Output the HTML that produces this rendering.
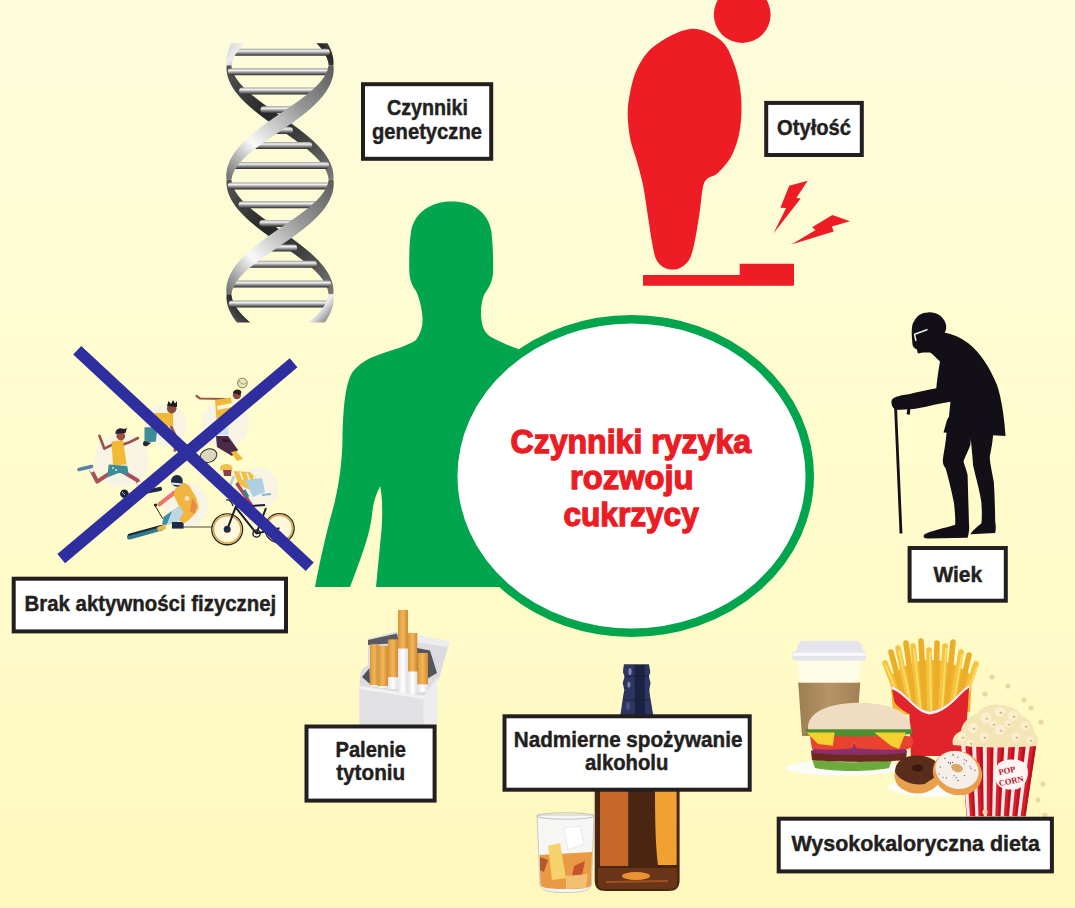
<!DOCTYPE html>
<html><head><meta charset="utf-8"><style>
html,body{margin:0;padding:0;width:1075px;height:908px;overflow:hidden;}
svg{position:absolute;left:0;top:0;display:block;}
text{font-family:"Liberation Sans",sans-serif;font-weight:bold;}
</style></head><body>
<svg width="1075" height="908" viewBox="0 0 1075 908">
<defs>
<linearGradient id="bg" x1="0" y1="0" x2="0" y2="1"><stop offset="0" stop-color="#FDFCDC"/><stop offset="0.5" stop-color="#FFFCCD"/><stop offset="1" stop-color="#FFF8BE"/></linearGradient>
<linearGradient id="rung" x1="0" y1="0" x2="0" y2="1"><stop offset="0" stop-color="#9a9a9a"/><stop offset="0.3" stop-color="#f2f2f2"/><stop offset="0.65" stop-color="#858585"/><stop offset="1" stop-color="#2a2a2a"/></linearGradient>
<linearGradient id="dnaBack0" x1="0" y1="0" x2="1" y2="1"><stop offset="0" stop-color="#555"/><stop offset="0.4" stop-color="#262626"/><stop offset="0.7" stop-color="#444"/><stop offset="1" stop-color="#7a7a7a"/></linearGradient>
<linearGradient id="dnaBack1" x1="1" y1="0" x2="0" y2="1"><stop offset="0" stop-color="#555"/><stop offset="0.4" stop-color="#262626"/><stop offset="0.7" stop-color="#444"/><stop offset="1" stop-color="#7a7a7a"/></linearGradient>
<linearGradient id="dnaFront1" x1="1" y1="0" x2="0" y2="1"><stop offset="0" stop-color="#5a5a5a"/><stop offset="0.35" stop-color="#9a9a9a"/><stop offset="0.72" stop-color="#fafafa"/><stop offset="1" stop-color="#6a6a6a"/></linearGradient>
<linearGradient id="dnaFront0" x1="0" y1="0" x2="1" y2="1"><stop offset="0" stop-color="#d0d0d0"/><stop offset="0.5" stop-color="#eeeeee"/><stop offset="1" stop-color="#5a5a5a"/></linearGradient>
<linearGradient id="filt" x1="0" y1="0" x2="1" y2="0"><stop offset="0" stop-color="#D9953A"/><stop offset="0.5" stop-color="#F2B658"/><stop offset="1" stop-color="#D08A32"/></linearGradient>
<linearGradient id="cup" x1="0" y1="0" x2="1" y2="0"><stop offset="0" stop-color="#9C7E52"/><stop offset="0.5" stop-color="#B59467"/><stop offset="1" stop-color="#A08155"/></linearGradient>
<linearGradient id="paper" x1="0" y1="0" x2="1" y2="0"><stop offset="0" stop-color="#E4E4E8"/><stop offset="0.5" stop-color="#FFFFFF"/><stop offset="1" stop-color="#E0E0E4"/></linearGradient>
</defs>
<rect width="1075" height="908" fill="url(#bg)"/>
<g id="dna"><path d="M316.4,43.2 L317.8,44.7 L319.2,46.2 L320.5,47.7 L321.7,49.2 L322.8,50.7 L323.8,52.2 L324.7,53.7 L325.5,55.2 L326.2,56.7 L326.9,58.2 L327.4,59.7 L327.9,61.2 L328.2,62.7 L328.5,64.2 L328.6,65.2 L333.4,65.2 L333.5,64.2 L333.5,62.7 L333.5,61.2 L333.4,59.7 L333.2,58.2 L333.0,56.7 L332.6,55.2 L332.2,53.7 L331.8,52.2 L331.2,50.7 L330.6,49.2 L329.9,47.7 L329.2,46.2 L328.4,44.7 L327.5,43.2Z" fill="url(#dnaBack1)"/><path d="M226.6,65.2 L226.5,66.8 L226.5,68.2 L226.5,69.8 L226.7,71.2 L226.9,72.8 L227.1,74.2 L227.5,75.8 L227.9,77.2 L228.4,78.8 L228.9,80.2 L229.6,81.8 L230.3,83.2 L231.0,84.8 L231.9,86.2 L232.8,87.8 L233.8,89.2 L234.8,90.8 L235.9,92.2 L237.1,93.8 L238.3,95.2 L239.6,96.8 L241.0,98.2 L242.4,99.8 L243.9,101.2 L245.4,102.8 L247.0,104.2 L248.6,105.8 L250.3,107.2 L252.1,108.8 L253.9,110.2 L255.7,111.8 L257.6,113.2 L259.5,114.8 L261.5,116.2 L263.5,117.8 L265.5,119.2 L267.6,120.8 L269.7,122.2 L271.8,123.8 L273.9,125.2 L276.0,126.8 L278.2,128.2 L280.3,129.8 L282.5,131.2 L284.7,132.8 L286.8,134.2 L289.0,135.8 L291.1,137.2 L293.2,138.8 L295.3,140.2 L297.3,141.8 L299.4,143.2 L301.3,144.8 L303.3,146.2 L305.2,147.8 L307.1,149.2 L308.9,150.8 L310.6,152.2 L312.3,153.8 L313.9,155.2 L315.5,156.8 L316.9,158.2 L318.3,159.8 L319.7,161.2 L320.9,162.8 L322.1,164.2 L323.1,165.8 L324.1,167.2 L325.0,168.8 L325.8,170.2 L326.5,171.8 L327.1,173.2 L327.6,174.8 L328.0,176.2 L328.3,177.8 L328.5,179.2 L328.6,179.8 L333.4,179.8 L333.4,179.2 L333.5,177.8 L333.5,176.2 L333.4,174.8 L333.3,173.2 L333.1,171.8 L332.8,170.2 L332.4,168.8 L331.9,167.2 L331.4,165.8 L330.8,164.2 L330.2,162.8 L329.5,161.2 L328.7,159.8 L327.8,158.2 L326.9,156.8 L325.9,155.2 L324.8,153.8 L323.7,152.2 L322.5,150.8 L321.3,149.2 L319.9,147.8 L318.6,146.2 L317.1,144.8 L315.6,143.2 L314.1,141.8 L312.5,140.2 L310.8,138.8 L309.1,137.2 L307.3,135.8 L305.5,134.2 L303.6,132.8 L301.7,131.2 L299.8,129.8 L297.8,128.2 L295.8,126.8 L293.8,125.2 L291.7,123.8 L289.6,122.2 L287.5,120.8 L285.4,119.2 L283.2,117.8 L281.1,116.2 L278.9,114.8 L276.8,113.2 L274.6,111.8 L272.5,110.2 L270.3,108.8 L268.2,107.2 L266.1,105.8 L264.0,104.2 L262.0,102.8 L260.0,101.2 L258.0,99.8 L256.1,98.2 L254.2,96.8 L252.3,95.2 L250.5,93.8 L248.8,92.2 L247.2,90.8 L245.6,89.2 L244.0,87.8 L242.6,86.2 L241.2,84.8 L239.9,83.2 L238.7,81.8 L237.6,80.2 L236.5,78.8 L235.6,77.2 L234.7,75.8 L234.0,74.2 L233.3,72.8 L232.7,71.2 L232.2,69.8 L231.9,68.2 L231.6,66.8 L231.4,65.2Z" fill="url(#dnaBack0)"/><path d="M226.6,179.8 L226.5,181.2 L226.5,182.8 L226.5,184.2 L226.7,185.8 L226.9,187.2 L227.1,188.8 L227.5,190.2 L227.9,191.8 L228.4,193.2 L228.9,194.8 L229.6,196.2 L230.3,197.8 L231.0,199.2 L231.9,200.8 L232.8,202.2 L233.8,203.8 L234.8,205.2 L235.9,206.8 L237.1,208.2 L238.3,209.8 L239.6,211.2 L241.0,212.8 L242.4,214.2 L243.9,215.8 L245.4,217.2 L247.0,218.8 L248.6,220.2 L250.3,221.8 L252.1,223.2 L253.9,224.8 L255.7,226.2 L257.6,227.8 L259.5,229.2 L261.5,230.8 L263.5,232.2 L265.5,233.8 L267.6,235.2 L269.7,236.8 L271.8,238.2 L273.9,239.8 L276.0,241.2 L278.2,242.8 L280.3,244.2 L282.5,245.8 L284.7,247.2 L286.8,248.8 L289.0,250.2 L291.1,251.8 L293.2,253.2 L295.3,254.8 L297.3,256.2 L299.4,257.8 L301.3,259.2 L303.3,260.8 L305.2,262.2 L307.1,263.8 L308.9,265.2 L310.6,266.8 L312.3,268.2 L313.9,269.8 L315.5,271.2 L316.9,272.8 L318.3,274.2 L319.7,275.8 L320.9,277.2 L322.1,278.8 L323.1,280.2 L324.1,281.8 L325.0,283.2 L325.8,284.8 L326.5,286.2 L327.1,287.8 L327.6,289.2 L328.0,290.8 L328.3,292.2 L328.5,293.8 L328.6,294.2 L333.4,294.2 L333.4,293.8 L333.5,292.2 L333.5,290.8 L333.4,289.2 L333.3,287.8 L333.1,286.2 L332.8,284.8 L332.4,283.2 L331.9,281.8 L331.4,280.2 L330.8,278.8 L330.2,277.2 L329.5,275.8 L328.7,274.2 L327.8,272.8 L326.9,271.2 L325.9,269.8 L324.8,268.2 L323.7,266.8 L322.5,265.2 L321.3,263.8 L319.9,262.2 L318.6,260.8 L317.1,259.2 L315.6,257.8 L314.1,256.2 L312.5,254.8 L310.8,253.2 L309.1,251.8 L307.3,250.2 L305.5,248.8 L303.6,247.2 L301.7,245.8 L299.8,244.2 L297.8,242.8 L295.8,241.2 L293.8,239.8 L291.7,238.2 L289.6,236.8 L287.5,235.2 L285.4,233.8 L283.2,232.2 L281.1,230.8 L278.9,229.2 L276.8,227.8 L274.6,226.2 L272.5,224.8 L270.3,223.2 L268.2,221.8 L266.1,220.2 L264.0,218.8 L262.0,217.2 L260.0,215.8 L258.0,214.2 L256.1,212.8 L254.2,211.2 L252.3,209.8 L250.5,208.2 L248.8,206.8 L247.2,205.2 L245.6,203.8 L244.0,202.2 L242.6,200.8 L241.2,199.2 L239.9,197.8 L238.7,196.2 L237.6,194.8 L236.5,193.2 L235.6,191.8 L234.7,190.2 L234.0,188.8 L233.3,187.2 L232.7,185.8 L232.2,184.2 L231.9,182.8 L231.6,181.2 L231.4,179.8Z" fill="url(#dnaBack0)"/><path d="M226.6,294.2 L226.5,295.8 L226.5,297.2 L226.5,298.8 L226.7,300.2 L226.9,301.8 L227.1,303.2 L227.5,304.8 L227.9,306.2 L228.4,307.8 L228.9,309.2 L229.6,310.8 L230.3,312.2 L231.0,313.8 L231.9,315.2 L232.8,316.8 L233.8,318.2 L234.8,319.8 L235.9,321.2 L236.9,322.5 L250.3,322.5 L248.8,321.2 L247.2,319.8 L245.6,318.2 L244.0,316.8 L242.6,315.2 L241.2,313.8 L239.9,312.2 L238.7,310.8 L237.6,309.2 L236.5,307.8 L235.6,306.2 L234.7,304.8 L234.0,303.2 L233.3,301.8 L232.7,300.2 L232.2,298.8 L231.9,297.2 L231.6,295.8 L231.4,294.2Z" fill="url(#dnaBack1)"/><rect x="230.2" y="48.8" width="99.6" height="7" rx="3.4" fill="url(#rung)"/><rect x="227.8" y="68.3" width="104.4" height="7" rx="3.4" fill="url(#rung)"/><rect x="239.1" y="87.4" width="81.8" height="7" rx="3.4" fill="url(#rung)"/><rect x="260.5" y="106.2" width="39.1" height="7" rx="3.4" fill="url(#rung)"/><rect x="267.0" y="126.9" width="25.9" height="7" rx="3.4" fill="url(#rung)"/><rect x="247.9" y="142.0" width="64.2" height="7" rx="3.4" fill="url(#rung)"/><rect x="230.9" y="161.9" width="98.2" height="7" rx="3.4" fill="url(#rung)"/><rect x="227.7" y="182.4" width="104.6" height="7" rx="3.4" fill="url(#rung)"/><rect x="238.6" y="201.3" width="82.8" height="7" rx="3.4" fill="url(#rung)"/><rect x="259.4" y="219.9" width="41.2" height="7" rx="3.4" fill="url(#rung)"/><rect x="262.8" y="244.5" width="34.3" height="7" rx="3.4" fill="url(#rung)"/><rect x="243.3" y="260.8" width="73.5" height="7" rx="3.4" fill="url(#rung)"/><rect x="229.0" y="280.5" width="102.0" height="7" rx="3.4" fill="url(#rung)"/><rect x="228.8" y="300.5" width="102.4" height="7" rx="3.4" fill="url(#rung)"/><path d="M231.4,43.2 L230.6,44.7 L229.8,46.2 L229.2,47.7 L228.6,49.2 L228.1,50.7 L227.6,52.2 L227.2,53.7 L226.9,55.2 L226.7,56.7 L226.5,58.2 L226.4,59.7 L226.3,61.2 L226.4,62.7 L226.5,64.2 L226.6,65.2 L231.4,65.2 L231.6,64.2 L231.9,62.7 L232.3,61.2 L232.8,59.7 L233.4,58.2 L234.1,56.7 L235.0,55.2 L235.9,53.7 L236.9,52.2 L238.0,50.7 L239.1,49.2 L240.4,47.7 L241.8,46.2 L243.2,44.7 L244.8,43.2Z" fill="url(#dnaFront0)"/><path d="M328.6,65.2 L328.3,66.8 L328.0,68.2 L327.6,69.8 L327.0,71.2 L326.4,72.8 L325.6,74.2 L324.8,75.8 L323.9,77.2 L322.8,78.8 L321.7,80.2 L320.5,81.8 L319.2,83.2 L317.8,84.8 L316.3,86.2 L314.8,87.8 L313.1,89.2 L311.5,90.8 L309.7,92.2 L307.9,93.8 L306.0,95.2 L304.0,96.8 L302.1,98.2 L300.0,99.8 L298.0,101.2 L295.9,102.8 L293.7,104.2 L291.6,105.8 L289.4,107.2 L287.2,108.8 L285.0,110.2 L282.8,111.8 L280.6,113.2 L278.4,114.8 L276.2,116.2 L274.0,117.8 L271.9,119.2 L269.7,120.8 L267.6,122.2 L265.5,123.8 L263.5,125.2 L261.5,126.8 L259.5,128.2 L257.5,129.8 L255.6,131.2 L253.8,132.8 L252.0,134.2 L250.2,135.8 L248.5,137.2 L246.9,138.8 L245.3,140.2 L243.8,141.8 L242.3,143.2 L240.9,144.8 L239.5,146.2 L238.2,147.8 L237.0,149.2 L235.9,150.8 L234.8,152.2 L233.7,153.8 L232.8,155.2 L231.9,156.8 L231.1,158.2 L230.3,159.8 L229.6,161.2 L229.0,162.8 L228.4,164.2 L227.9,165.8 L227.5,167.2 L227.1,168.8 L226.8,170.2 L226.6,171.8 L226.4,173.2 L226.3,174.8 L226.3,176.2 L226.4,177.8 L226.5,179.2 L226.6,179.8 L231.4,179.8 L231.5,179.2 L231.8,177.8 L232.1,176.2 L232.6,174.8 L233.2,173.2 L233.9,171.8 L234.6,170.2 L235.5,168.8 L236.5,167.2 L237.5,165.8 L238.7,164.2 L239.9,162.8 L241.3,161.2 L242.7,159.8 L244.2,158.2 L245.8,156.8 L247.4,155.2 L249.1,153.8 L250.9,152.2 L252.8,150.8 L254.7,149.2 L256.6,147.8 L258.6,146.2 L260.6,144.8 L262.7,143.2 L264.8,141.8 L267.0,140.2 L269.1,138.8 L271.3,137.2 L273.5,135.8 L275.7,134.2 L277.9,132.8 L280.1,131.2 L282.3,129.8 L284.5,128.2 L286.7,126.8 L288.8,125.2 L291.0,123.8 L293.1,122.2 L295.2,120.8 L297.2,119.2 L299.2,117.8 L301.2,116.2 L303.1,114.8 L305.0,113.2 L306.8,111.8 L308.6,110.2 L310.4,108.8 L312.0,107.2 L313.7,105.8 L315.2,104.2 L316.7,102.8 L318.2,101.2 L319.6,99.8 L320.9,98.2 L322.2,96.8 L323.4,95.2 L324.5,93.8 L325.6,92.2 L326.6,90.8 L327.5,89.2 L328.4,87.8 L329.2,86.2 L330.0,84.8 L330.6,83.2 L331.2,81.8 L331.8,80.2 L332.3,78.8 L332.7,77.2 L333.0,75.8 L333.3,74.2 L333.5,72.8 L333.6,71.2 L333.7,69.8 L333.7,68.2 L333.6,66.8 L333.4,65.2Z" fill="url(#dnaFront1)"/><path d="M328.6,179.8 L328.3,181.2 L328.0,182.8 L327.6,184.2 L327.0,185.8 L326.4,187.2 L325.6,188.8 L324.8,190.2 L323.9,191.8 L322.8,193.2 L321.7,194.8 L320.5,196.2 L319.2,197.8 L317.8,199.2 L316.3,200.8 L314.8,202.2 L313.1,203.8 L311.5,205.2 L309.7,206.8 L307.9,208.2 L306.0,209.8 L304.0,211.2 L302.1,212.8 L300.0,214.2 L298.0,215.8 L295.9,217.2 L293.7,218.8 L291.6,220.2 L289.4,221.8 L287.2,223.2 L285.0,224.8 L282.8,226.2 L280.6,227.8 L278.4,229.2 L276.2,230.8 L274.0,232.2 L271.9,233.8 L269.7,235.2 L267.6,236.8 L265.5,238.2 L263.5,239.8 L261.5,241.2 L259.5,242.8 L257.5,244.2 L255.6,245.8 L253.8,247.2 L252.0,248.8 L250.2,250.2 L248.5,251.8 L246.9,253.2 L245.3,254.8 L243.8,256.2 L242.3,257.8 L240.9,259.2 L239.5,260.8 L238.2,262.2 L237.0,263.8 L235.9,265.2 L234.8,266.8 L233.7,268.2 L232.8,269.8 L231.9,271.2 L231.1,272.8 L230.3,274.2 L229.6,275.8 L229.0,277.2 L228.4,278.8 L227.9,280.2 L227.5,281.8 L227.1,283.2 L226.8,284.8 L226.6,286.2 L226.4,287.8 L226.3,289.2 L226.3,290.8 L226.4,292.2 L226.5,293.8 L226.6,294.2 L231.4,294.2 L231.5,293.8 L231.8,292.2 L232.1,290.8 L232.6,289.2 L233.2,287.8 L233.9,286.2 L234.6,284.8 L235.5,283.2 L236.5,281.8 L237.5,280.2 L238.7,278.8 L239.9,277.2 L241.3,275.8 L242.7,274.2 L244.2,272.8 L245.8,271.2 L247.4,269.8 L249.1,268.2 L250.9,266.8 L252.8,265.2 L254.7,263.8 L256.6,262.2 L258.6,260.8 L260.6,259.2 L262.7,257.8 L264.8,256.2 L267.0,254.8 L269.1,253.2 L271.3,251.8 L273.5,250.2 L275.7,248.8 L277.9,247.2 L280.1,245.8 L282.3,244.2 L284.5,242.8 L286.7,241.2 L288.8,239.8 L291.0,238.2 L293.1,236.8 L295.2,235.2 L297.2,233.8 L299.2,232.2 L301.2,230.8 L303.1,229.2 L305.0,227.8 L306.8,226.2 L308.6,224.8 L310.4,223.2 L312.0,221.8 L313.7,220.2 L315.2,218.8 L316.7,217.2 L318.2,215.8 L319.6,214.2 L320.9,212.8 L322.2,211.2 L323.4,209.8 L324.5,208.2 L325.6,206.8 L326.6,205.2 L327.5,203.8 L328.4,202.2 L329.2,200.8 L330.0,199.2 L330.6,197.8 L331.2,196.2 L331.8,194.8 L332.3,193.2 L332.7,191.8 L333.0,190.2 L333.3,188.8 L333.5,187.2 L333.6,185.8 L333.7,184.2 L333.7,182.8 L333.6,181.2 L333.4,179.8Z" fill="url(#dnaFront1)"/><path d="M328.6,294.2 L328.3,295.8 L328.0,297.2 L327.6,298.8 L327.0,300.2 L326.4,301.8 L325.6,303.2 L324.8,304.8 L323.9,306.2 L322.8,307.8 L321.7,309.2 L320.5,310.8 L319.2,312.2 L317.8,313.8 L316.3,315.2 L314.8,316.8 L313.1,318.2 L311.5,319.8 L309.7,321.2 L308.2,322.5 L324.7,322.5 L325.6,321.2 L326.6,319.8 L327.5,318.2 L328.4,316.8 L329.2,315.2 L330.0,313.8 L330.6,312.2 L331.2,310.8 L331.8,309.2 L332.3,307.8 L332.7,306.2 L333.0,304.8 L333.3,303.2 L333.5,301.8 L333.6,300.2 L333.7,298.8 L333.7,297.2 L333.6,295.8 L333.4,294.2Z" fill="url(#dnaFront0)"/></g>
<path d="M690.4,28.9 C701.3,27.9 712.8,34.0 720.1,39.8 C727.4,45.6 730.5,54.3 734.0,63.6 C737.5,72.9 740.0,84.5 741.0,95.4 C742.0,106.3 741.5,119.1 740.0,129.0 C738.5,138.9 735.6,147.7 732.0,155.0 C728.4,162.3 722.3,168.8 718.2,172.7 C714.1,176.6 709.8,176.1 707.2,178.7 C704.6,181.2 704.1,182.2 702.8,188.0 C701.5,193.8 701.0,204.0 699.5,213.5 C698.0,223.0 695.8,237.2 694.0,245.0 C692.2,252.8 691.2,256.2 689.0,260.0 C686.8,263.8 683.7,265.9 681.0,267.5 C678.3,269.1 675.5,269.6 672.7,269.6 C669.9,269.6 666.7,269.1 664.0,267.5 C661.3,265.9 658.4,263.8 656.5,260.0 C654.6,256.2 654.0,252.8 652.5,245.0 C651.0,237.2 649.1,223.5 647.5,213.5 C645.9,203.5 644.8,193.9 643.0,185.0 C641.2,176.1 638.6,167.5 636.5,160.0 C634.4,152.5 631.9,146.8 630.5,140.0 C629.1,133.2 628.2,126.0 627.9,119.2 C627.6,112.4 627.4,107.7 628.9,99.4 C630.4,91.1 632.5,78.5 636.8,69.6 C641.1,60.7 645.8,52.6 654.7,45.8 C663.6,39.0 679.5,29.9 690.4,28.9Z" fill="#EE1C25"/>
<circle cx="742.2" cy="14.6" r="28.4" fill="#EE1C25"/>
<path d="M643,275.1 L739.7,275.1 L739.7,263.7 L794,263.7 L794,285.8 L643,285.8Z" fill="#EE1C25"/>
<path d="M807.7,180.7 L789.2,185.7 L780.4,207.7 L786.1,208.0 L773.4,233.4 L800.7,198.4 L796.3,198.0Z" fill="#EE1C25"/>
<path d="M832.4,215.1 L850.0,221.3 L831.9,226.4 L833.7,231.6 L791.4,244.4 L815.6,230.0 L812.1,227.2Z" fill="#EE1C25"/>
<path d="M451,201.5 C470,201 488,210 491.5,232 C493,248 493.5,262 493,273.7 C492,284 487,290 484,295 C481,303 480.5,312 481.5,320 C482.5,328 485,333 491,337 C500,342 510,346 517,348.6 L560,372 L560,587 L376,587 L381.5,530 C383,510 382,495 380.2,486.2 C377,492 373,502 372,515 C370,535 360,560 350,587 L315,587 C320,560 327,530 334,505 C340,480 342,460 342.5,440 C343,410 345,385 352,372.8 C360,362 370,358 378,355 C395,349 410,345 416,340 C421,333 423,326 422.5,317.8 C422,308 419,297 416,291 C411,284 409.5,278 409.3,270 C409,255 409.5,242 411,232 C414,212 432,201.5 451,201.5Z" fill="#00A54D"/>
<ellipse cx="631.5" cy="476" rx="178.25" ry="156.75" fill="#fff" stroke="#00A54D" stroke-width="8.5"/>
<path d="M928.1,312.4 C936,312 943,316 945.5,323 C947,328 946,331 944.5,332.5 C952,334 960,337 968,343 C980,352 990,368 997,385 C1002,400 1004.5,420 1005.5,435.9 L943.5,432.4 L947,420 L949,416.6 L950.4,401.7 C935,404 922,408 913.3,409.1 L896,410 C892,408 890.5,403 892,399.5 C896,396 902,395 908.8,394.2 C918,392 928,390 936.3,388.3 C937,380 938.5,370 940,361.5 C935,357 932,353 929.6,352.6 C925,352 920,353 917.7,353.3 L917,349.6 C914,348 912.5,346 912.5,344.4 C912,338 911.5,334 911.8,330.3 C912,325 913,322 914,321.4 C917,315 922,312.5 928.1,312.4Z" fill="#120F17"/>
<path d="M947,426 C946,445 943,455 942.8,461.3 C943,465 944.5,467 945.6,468.2 C949,480 952.5,495 953.9,502.6 C955,512 955.5,520 955.2,524.7 C945,528 930,531 925,534 C922,537 924,538.5 928,538.4 L967.6,537.7 C969,533 969.5,528 969,524.7 C968.5,505 968,490 967.6,475 C966,468 964,464 963.5,461.3 C966,455 969,449 970.4,444.8 L972,426Z" fill="#120F17"/>
<path d="M970,426 C971,445 972.5,455 973.1,465.4 C976,478 980,492 981.4,502.6 C982,512 982,518 981.4,523.3 C977,527 972,531 970.4,534.3 L995.2,533 C996,529 996,525 995.2,521.9 C995,505 994.5,492 993.8,482 C992,472 990,463 989.7,457.2 C991,450 993,442 993.8,426Z" fill="#120F17"/>
<path d="M895.5,406 L901,533.5" stroke="#120F17" stroke-width="2.8" fill="none"/>
<path d="M893,404 C898,400 906,401 908,406 C909,409 909,412 908,414.5" stroke="#120F17" stroke-width="3" fill="none"/>
<path d="M914,334.5 L927.5,329.5 M914.5,334.5 L916,341" stroke="#eee" stroke-width="1.5" fill="none"/>
<g id="sports"><circle cx="121.6" cy="460.2" r="27.0" fill="#F7F4E4"/><circle cx="166.0" cy="425.0" r="21.0" fill="#F7F4E4"/><circle cx="225.4" cy="423.6" r="23.6" fill="#F7F4E4"/><circle cx="186.0" cy="505.0" r="22.0" fill="#F7F4E4"/><circle cx="257.3" cy="488.5" r="21.0" fill="#F7F4E4"/><path d="M113,444.4 L104.4,448.7 L99.4,435.8" stroke="#9E4F45" stroke-width="2.6" fill="none" stroke-linecap="round" stroke-linejoin="round"/><path d="M123,444.4 L130,442 L138,438" stroke="#9E4F45" stroke-width="2.6" fill="none" stroke-linecap="round"/><path d="M110,473.1 L97.2,481.7 L91,469.5" stroke="#A9505A" stroke-width="4" fill="none" stroke-linejoin="round"/><path d="M92.5,472 L90,466" stroke="#F4F4F4" stroke-width="3.6"/><path d="M79,469.5 L91.5,466.5" stroke="#5A7FA8" stroke-width="3.6" stroke-linecap="round"/><path d="M123,471.7 L137.3,480.2 L139.5,485" stroke="#A9505A" stroke-width="4" fill="none" stroke-linejoin="round"/><path d="M138.5,482 L141,488" stroke="#F4F4F4" stroke-width="3.8"/><path d="M144.5,492 L160,489" stroke="#1F2A44" stroke-width="4.2" stroke-linecap="round"/><path d="M111.5,441.6 L123,440.1 L126.6,464.5 L113,465.2Z" fill="#F1B935"/><path d="M108.7,464.5 L127.3,466 L128.7,474.5 L118.7,473.1 L107.2,477.4Z" fill="#3F8C99"/><path d="M112,468 l2,0 M113,467 l0,2 M115,470 l2,0 M116,469 l0,2" stroke="#EAF2F4" stroke-width="0.8"/><circle cx="120.8" cy="436" r="4.4" fill="#9E4F45"/><path d="M115.5,434 C115,429 120,427 124,429 L127,428 L125.5,433 Z" fill="#2A2030"/><circle cx="124.4" cy="493.8" r="4.3" fill="#1F2438"/><path d="M122,492 l3,3" stroke="#ddd" stroke-width="0.8"/><path d="M170.2,424.4 L177.4,440.1 L174.5,451.6" stroke="#9E4F45" stroke-width="2.6" fill="none" stroke-linejoin="round"/><path d="M154.5,413 L173.1,413 L173.1,425.8 L155.9,427.3Z" fill="#F1B935"/><path d="M144.5,427.3 L157.4,427.3 L155.9,441.6 L144.5,443Z" fill="#3F8C99"/><path d="M144,441 C142,444 143,447 147,446 L151,443Z" fill="#2A2030"/><circle cx="171.7" cy="408.6" r="4.8" fill="#8A4A40"/><path d="M167,406 L168.5,401 L171,404 L173,400 L175,403.5 L177,401 L177,407Z" fill="#1E1A22"/><circle cx="242.4" cy="383" r="4.8" fill="#E9E6B2" stroke="#4A4A3A" stroke-width="0.7"/><path d="M239,381 C241,384 244,385 246,383" stroke="#6A6A50" stroke-width="0.6" fill="none"/><path d="M196.5,396 L200,398.5 L224.8,399" stroke="#9A5545" stroke-width="2.2" stroke-linecap="round" fill="none"/><path d="M215,400 L231,397.5 L233.5,415 L216.5,419.5Z" fill="#F1B935"/><path d="M217,406 L232,403 L232.5,407 L217.5,410Z" fill="#FFF4D8"/><circle cx="236.9" cy="395.1" r="4.2" fill="#8A4A40"/><path d="M233,393 C233,389 240,388 241.5,392 L240,395Z" fill="#2A1E24"/><path d="M218.5,427.5 L228.5,427.5 L228.5,435 L218.5,435Z" fill="#CFE2EE"/><path d="M216,436 L228,436 L238,450 L232,456 L217,447Z" fill="#4A2A48"/><path d="M222,440 L229,441" stroke="#2A1A2A" stroke-width="2.4"/><path d="M231,452 L236,451 L243,459 L237,461Z" fill="#F1B935"/><ellipse cx="208.5" cy="455.7" rx="8.6" ry="6.6" fill="#DCD8BE" stroke="#2A2A2A" stroke-width="1" transform="rotate(-20 208.5 455.7)"/><path d="M129.5,537 L161.5,528" stroke="#2F7A8C" stroke-width="5" stroke-linecap="round"/><path d="M129,534.8 L161,526" stroke="#1C2940" stroke-width="2.2" stroke-linecap="round"/><path d="M163.5,516.9 L178.6,506 L183.6,509.4 L182,520.3 L171.9,523.6 L161.8,527Z" fill="#BCD6E6"/><path d="M163.5,516.9 L172,511 L167,524 L161.8,527Z" fill="#3E8FA0"/><path d="M171.9,522 L183.6,522 L183.6,528.6 L171.9,528.6Z" fill="#1F2A44"/><path d="M157,527.5 L165,524 L166,529 L158,531Z" fill="#E9B848"/><path d="M174.4,492.6 L159.3,504.3" stroke="#E8776A" stroke-width="4.2" stroke-linecap="round"/><path d="M154.3,504.3 L162.7,518.6" stroke="#222" stroke-width="1"/><circle cx="155.5" cy="505" r="1.6" fill="#222"/><path d="M175.3,488.4 L183.6,482.6 L188.7,485.1 L196.2,497.6 L198.7,507.7 L195.4,513.6 L188.7,520.3 L183.6,523.6 L179.4,520.3 L183.6,511.9 L178.6,505.2 L173.6,495.1Z" fill="#F2B540"/><path d="M192,498 L197,505 L195,513 L190,512Z" fill="#E98A4A"/><circle cx="187" cy="498.5" r="2.4" fill="#F8E6C0"/><circle cx="176.9" cy="480.9" r="5.9" fill="#1F2A44"/><path d="M171.5,483.5 L181.5,484.5" stroke="#E8ECF0" stroke-width="2.2"/><path d="M182.8,527 L226,527" stroke="#333" stroke-width="0.9"/><circle cx="227.2" cy="529.3" r="15.4" fill="#FFF8DA" stroke="#2A2326" stroke-width="1.4"/><circle cx="227.2" cy="529.3" r="13.8" fill="none" stroke="#D4AE5A" stroke-width="1.8"/><circle cx="279.5" cy="528.2" r="14.6" fill="#FFF8DA" stroke="#2A2326" stroke-width="1.4"/><circle cx="279.5" cy="528.2" r="13" fill="none" stroke="#D4AE5A" stroke-width="1.8"/><path d="M227.2,529.3 L235.6,507.3 L256.5,533.5 L279.5,528.2 M256.5,533.5 L266,508 M235.6,507.3 L265,505" stroke="#1E1B33" stroke-width="2" fill="none"/><path d="M262,495 L271,494" stroke="#8AB8D0" stroke-width="2"/><circle cx="227.2" cy="529.3" r="3.5" fill="#1E2A48"/><circle cx="256.5" cy="533.5" r="3.6" fill="none" stroke="#1E1B33" stroke-width="1.4"/><path d="M226,500 C229,499 232,502 233,506" stroke="#1E1B33" stroke-width="1.3" fill="none"/><path d="M233.5,471 L250,472 L261,484 L250,490 L238,484Z" fill="#F2BE4A"/><path d="M240,472 L243,480 M247,473 L250,482 M254,477 L256,485" stroke="#FFF6E0" stroke-width="1.6"/><path d="M245,480 L262,478 L265,492 L253,497Z" fill="#AFCFE2"/><path d="M236.5,483 L244,494 L252,506" stroke="#A9485A" stroke-width="3.4" fill="none"/><path d="M244,490 L248,497" stroke="#2E8A96" stroke-width="3"/><path d="M234,476 L230,486" stroke="#AFCFE2" stroke-width="2.6"/><path d="M220,467.5 C221,463 230,463 232.5,467 L232,470.5 L220.5,470.5Z" fill="#F0C04A"/><path d="M223,470 L231.5,470 L231,476 L224,476Z" fill="#8A3E52"/></g>
<path d="M77.2,350.25 L309.75,566.7" stroke="#2F2E9F" stroke-width="11.8" stroke-linecap="butt"/>
<path d="M293.6,362.75 L61.2,558.6" stroke="#2F2E9F" stroke-width="12" stroke-linecap="butt"/>
<g id="cigs"><path d="M368,638.7 L397,631.5 L450,641.5 L448,647 L439.5,677 L423.8,696 L359.3,686 L361,670 L368,665Z" fill="#DCDCE0"/><path d="M397,631.5 L450,641.5 L448,647 L400,640Z" fill="#EDEDF0"/><path d="M368,640 L397,633.5 L399,643 L368,645Z" fill="#5A5A62"/><path d="M417,648 L430,650.5 L437,673 L427,679 L417,672Z" fill="#55555C"/><path d="M362,677 L369.5,668 L370,684Z" fill="#505058"/><rect x="370.0" y="644.4" width="8.6" height="40.6" fill="url(#filt)"/><rect x="370.0" y="685.0" width="8.6" height="1.5" fill="url(#paper)"/><rect x="378.0" y="645.8" width="10.0" height="40.2" fill="url(#filt)"/><rect x="378.0" y="686.0" width="10.0" height="2.0" fill="url(#paper)"/><rect x="388.0" y="639.4" width="10.0" height="37.9" fill="url(#filt)"/><rect x="388.0" y="677.3" width="10.0" height="11.7" fill="url(#paper)"/><rect x="398.0" y="610.0" width="10.0" height="38.7" fill="url(#filt)"/><rect x="398.0" y="648.7" width="10.0" height="44.3" fill="url(#paper)"/><rect x="408.0" y="633.0" width="9.3" height="38.6" fill="url(#filt)"/><rect x="408.0" y="671.6" width="9.3" height="22.4" fill="url(#paper)"/><rect x="417.3" y="653.0" width="10.7" height="31.5" fill="url(#filt)"/><rect x="417.3" y="684.5" width="10.7" height="7.5" fill="url(#paper)"/><path d="M359.3,686 L423.8,696 L423.8,726 L359.3,726Z" fill="#E1E1E3"/><path d="M359.3,686 L423.8,696 L423.8,699 L359.3,689Z" fill="#F2F2F4"/><path d="M423.8,696 L437.4,677.3 L437.4,726 L423.8,726Z" fill="#EDEDEF"/></g>
<g id="bottle"><path d="M623.9,664.3 L623.1,670.0 L623.1,673.1 L624.7,676.2 L622.7,683.1 L624.3,690.1 L623.1,696.2 L620.4,715.0 L653.2,715.0 L650.1,696.2 L649.3,690.1 L650.5,683.1 L648.9,676.2 L650.1,673.1 L650.1,670.0 L648.9,664.3Z" fill="#2E3560"/><path d="M634.5,665 L644.5,665 L645,714 L635,714Z" fill="#1B2140"/><path d="M624,676.2 L649,676.2 M623.5,700 L650,700" stroke="#1B2140" stroke-width="0.8"/><ellipse cx="630" cy="671.6" rx="1.6" ry="3.6" fill="#8088B8"/><ellipse cx="628.9" cy="684.7" rx="1.6" ry="3" fill="#7880B0"/><ellipse cx="628" cy="706" rx="2" ry="4" fill="#4A5288"/><path d="M594.7,790 L679.6,790 L679.6,880 C679.6,888 676,891 668,891 L606,891 C598,891 594.7,888 594.7,880Z" fill="#4A2612"/><rect x="600" y="790" width="28.2" height="76" fill="#C6682A"/><path d="M655,790 L676.6,790 L676.6,865 L658,865 C656,850 655,830 655,790Z" fill="#F0A132"/><path d="M598,868 L677,868 L677,884 C677,888 674,889 668,889 L606,889 C600,889 598,887 598,884Z" fill="#6A3418"/><ellipse cx="636" cy="876" rx="14" ry="4" fill="#E89232"/><path d="M606,882 L668,881" stroke="#A0521E" stroke-width="2"/><path d="M537,815 L594,815 L591.5,884 C591,890 585,892.5 566,892.5 C546,892.5 541,890 540,884Z" fill="#F6F6F4" stroke="#C9C9CC" stroke-width="1"/><path d="M539.5,855 L592,852 L591,884 C591,888 585,889 566,889 C548,889 541,888 540.5,884Z" fill="#E99A42"/><path d="M548,846 L560,843 L566,878 L552,880Z" fill="#F6D26C"/><path d="M574,866 L585,861 L580,885 L570,887Z" fill="#C4552E"/><path d="M540,857 L548,860 L544,872 L540,870Z" fill="#B4592E"/><path d="M564,828 L580,826 L584,844 L568,850Z" fill="#FFFFFF" stroke="#DDD" stroke-width="0.6"/><path d="M566,876 L588,874 L586,888 L566,889Z" fill="#F2C070"/><ellipse cx="565.5" cy="816" rx="28.5" ry="3.2" fill="none" stroke="#BFBFC4" stroke-width="1"/></g>
<g id="food"><ellipse cx="843" cy="768" rx="58" ry="7.5" fill="#FBFBF8"/><ellipse cx="936" cy="787" rx="48" ry="10" fill="#FBFBF8"/><path d="M796,682 L862,682 L861,691 L800,735 L798,735 Z" fill="#FFFDEB" opacity="0"/><path d="M798.2,682.6 L860.2,682.6 L856.5,736 L802,736Z" fill="url(#cup)"/><path d="M797,661 L862,661 L858,682.6 L800,682.6Z" fill="#FFFCE8"/><path d="M797,650 C797,642 800,640.7 806,640.7 L852,640.7 C858,640.7 862.7,642 862.7,650 L866,652 L866,658 C866,660.6 864,660.6 862,660.6 L797,660.6 C793,660.6 792.4,660 792.4,658 L792.4,652Z" fill="#E4E5EC"/><path d="M793,652.5 L865.5,652.5 L865.5,656 L793,656Z" fill="#F8F8FC"/><path d="M890,676 C905,664 918,660 930,660 C945,660 958,664 972,676 L970,712 L893,712Z" fill="#F0B52C"/><path d="M885.0,663.0 L904.0,712.0" stroke="#F6C43C" stroke-width="5.6" stroke-linecap="round"/><path d="M891.0,652.0 L907.0,712.0" stroke="#ECAE28" stroke-width="5.6" stroke-linecap="round"/><path d="M898.0,648.0 L912.0,712.0" stroke="#F6C43C" stroke-width="5.6" stroke-linecap="round"/><path d="M906.0,643.0 L916.0,712.0" stroke="#ECAE28" stroke-width="5.6" stroke-linecap="round"/><path d="M913.0,646.0 L920.0,712.0" stroke="#F6C43C" stroke-width="5.6" stroke-linecap="round"/><path d="M921.0,641.0 L925.0,712.0" stroke="#ECAE28" stroke-width="5.6" stroke-linecap="round"/><path d="M929.0,650.0 L930.0,712.0" stroke="#F6C43C" stroke-width="5.6" stroke-linecap="round"/><path d="M937.0,643.0 L936.0,712.0" stroke="#ECAE28" stroke-width="5.6" stroke-linecap="round"/><path d="M945.0,646.0 L941.0,712.0" stroke="#F6C43C" stroke-width="5.6" stroke-linecap="round"/><path d="M953.0,642.0 L946.0,712.0" stroke="#ECAE28" stroke-width="5.6" stroke-linecap="round"/><path d="M961.0,652.0 L951.0,712.0" stroke="#F6C43C" stroke-width="5.6" stroke-linecap="round"/><path d="M969.0,655.0 L956.0,712.0" stroke="#ECAE28" stroke-width="5.6" stroke-linecap="round"/><path d="M976.0,664.0 L960.0,712.0" stroke="#F6C43C" stroke-width="5.6" stroke-linecap="round"/><path d="M886.0,666.0 L905.0,712.0" stroke="#FBDB6E" stroke-width="1.8" stroke-linecap="round"/><path d="M899.0,651.0 L913.0,712.0" stroke="#FBDB6E" stroke-width="1.8" stroke-linecap="round"/><path d="M914.0,649.0 L921.0,712.0" stroke="#FBDB6E" stroke-width="1.8" stroke-linecap="round"/><path d="M930.0,653.0 L931.0,712.0" stroke="#FBDB6E" stroke-width="1.8" stroke-linecap="round"/><path d="M946.0,649.0 L942.0,712.0" stroke="#FBDB6E" stroke-width="1.8" stroke-linecap="round"/><path d="M962.0,655.0 L952.0,712.0" stroke="#FBDB6E" stroke-width="1.8" stroke-linecap="round"/><path d="M977.0,667.0 L961.0,712.0" stroke="#FBDB6E" stroke-width="1.8" stroke-linecap="round"/><path d="M891.5,686 C905,690 915,710 930,711.4 C948,710 960,690 969.3,684.6 L967,720 L964.5,756 L910.8,756 L909.4,714 C903,711 897,706 894.3,702Z" fill="#E1232C"/><path d="M891.5,686 C905,690 915,710 930,711.4 C948,710 960,690 969.3,684.6 L969.2,687.6 C960,693 948,713 930,714.4 C915,713 905,693 891.5,689Z" fill="#FFF3F0"/><path d="M812,759 C830,762 860,764 892,760 L889,768 C870,772 835,772 815,768Z" fill="#6DAA3C"/><path d="M811,750.5 L907,750.5 L906,760 C880,762.5 840,762.5 812,760Z" fill="#6A2A1E"/><path d="M813,745 C840,741.5 880,741.5 906,745 L906.5,753 C880,755.5 840,755.5 812.5,753Z" fill="#8B2F6A"/><path d="M818,745 C840,742.5 870,742.5 900,745" stroke="#F2E6EE" stroke-width="0.9" fill="none"/><path d="M810,736 C825,733 845,733 855,737 L853,748 C840,750 825,750 812,749Z" fill="#E9432F"/><path d="M852,736 C870,733 895,733 912,737 C915,742 913,747 908,749 C890,750 870,750 856,748Z" fill="#E9432F"/><path d="M806,728.5 L912,728.5 L912.5,734 C880,737 840,737 806,735Z" fill="#528E30"/><path d="M806.5,732.5 L834.6,732.5 L833,745.7 L818,744Z" fill="#F5D130"/><path d="M874.3,732.5 L905.7,732.5 L899,749 L890.8,745.7Z" fill="#F5D130"/><path d="M808.1,729.2 C806,712 830,702.7 859,702.7 C889,702.7 912,712 910.6,729.2Z" fill="#EFDCC3"/><path d="M960.6,743 L1036.5,743 L1025.5,816.3 L966.5,816.3Z" fill="#DA1F2A"/><path d="M961.1,743 L965.2,743 L970.0,816.3 L966.9,816.3Z" fill="#FBE9EA"/><path d="M968.7,743 L971.4,743 L974.9,816.3 L972.8,816.3Z" fill="#B8141E"/><path d="M972.0,743 L976.0,743 L978.5,816.3 L975.4,816.3Z" fill="#FBE9EA"/><path d="M979.6,743 L982.3,743 L983.4,816.3 L981.2,816.3Z" fill="#B8141E"/><path d="M982.8,743 L986.8,743 L986.9,816.3 L983.8,816.3Z" fill="#FBE9EA"/><path d="M990.4,743 L993.1,743 L991.8,816.3 L989.7,816.3Z" fill="#B8141E"/><path d="M993.7,743 L997.7,743 L995.3,816.3 L992.2,816.3Z" fill="#FBE9EA"/><path d="M1001.3,743 L1004.0,743 L1000.2,816.3 L998.1,816.3Z" fill="#B8141E"/><path d="M1004.5,743 L1008.5,743 L1003.8,816.3 L1000.6,816.3Z" fill="#FBE9EA"/><path d="M1012.1,743 L1014.8,743 L1008.6,816.3 L1006.5,816.3Z" fill="#B8141E"/><path d="M1015.4,743 L1019.4,743 L1012.2,816.3 L1009.1,816.3Z" fill="#FBE9EA"/><path d="M1022.9,743 L1025.7,743 L1017.1,816.3 L1015.0,816.3Z" fill="#B8141E"/><path d="M1026.2,743 L1030.2,743 L1020.6,816.3 L1017.5,816.3Z" fill="#FBE9EA"/><path d="M1033.8,743 L1036.5,743 L1025.5,816.3 L1023.4,816.3Z" fill="#B8141E"/><path d="M998,764 C1004,758 1020,758 1026,764 C1030,772 1028,784 1018,789 C1006,791 996,788 996,779 C995,773 996,768 998,764Z" fill="#FFF6F4"/><text x="1000" y="773" font-size="8.5" fill="#B8141E" transform="rotate(-12 1010 778)" style="font-family:Liberation Serif;font-weight:bold">POP</text><text x="998" y="784" font-size="8.5" fill="#B8141E" transform="rotate(-12 1010 778)" style="font-family:Liberation Serif;font-weight:bold">CORN</text><path d="M953,745 C951,738 956,733 961,731 C962,722 970,716 977,714 C982,706 992,703.5 1000,705 C1010,705 1018,710 1022,716 C1030,719 1034,726 1034,733 C1039,737 1039,743 1037,746 C1010,748 980,748 953,745Z" fill="#F4E4B6"/><circle cx="962.0" cy="737.0" r="4.5" fill="#FAEFCF"/><path d="M961.0,738.0 l2.5,-1.5 l1,2.2Z" fill="#CFAE6A"/><circle cx="973.0" cy="728.0" r="5.0" fill="#FAEFCF"/><path d="M972.0,729.0 l2.5,-1.5 l1,2.2Z" fill="#CFAE6A"/><circle cx="986.0" cy="718.0" r="5.5" fill="#FAEFCF"/><path d="M985.0,719.0 l2.5,-1.5 l1,2.2Z" fill="#CFAE6A"/><circle cx="1000.0" cy="712.0" r="5.0" fill="#FAEFCF"/><path d="M999.0,713.0 l2.5,-1.5 l1,2.2Z" fill="#CFAE6A"/><circle cx="1013.0" cy="716.0" r="5.0" fill="#FAEFCF"/><path d="M1012.0,717.0 l2.5,-1.5 l1,2.2Z" fill="#CFAE6A"/><circle cx="1025.0" cy="726.0" r="4.5" fill="#FAEFCF"/><path d="M1024.0,727.0 l2.5,-1.5 l1,2.2Z" fill="#CFAE6A"/><circle cx="984.0" cy="737.0" r="4.5" fill="#FAEFCF"/><path d="M983.0,738.0 l2.5,-1.5 l1,2.2Z" fill="#CFAE6A"/><circle cx="1000.0" cy="730.0" r="5.0" fill="#FAEFCF"/><path d="M999.0,731.0 l2.5,-1.5 l1,2.2Z" fill="#CFAE6A"/><circle cx="1016.0" cy="737.0" r="4.5" fill="#FAEFCF"/><path d="M1015.0,738.0 l2.5,-1.5 l1,2.2Z" fill="#CFAE6A"/><circle cx="1030.0" cy="740.0" r="3.5" fill="#FAEFCF"/><path d="M1029.0,741.0 l2.5,-1.5 l1,2.2Z" fill="#CFAE6A"/><circle cx="970.0" cy="743.0" r="3.5" fill="#FAEFCF"/><path d="M969.0,744.0 l2.5,-1.5 l1,2.2Z" fill="#CFAE6A"/><circle cx="993.0" cy="724.0" r="3.5" fill="#FAEFCF"/><path d="M992.0,725.0 l2.5,-1.5 l1,2.2Z" fill="#CFAE6A"/><circle cx="1008.0" cy="724.0" r="3.5" fill="#FAEFCF"/><path d="M1007.0,725.0 l2.5,-1.5 l1,2.2Z" fill="#CFAE6A"/><circle cx="992" cy="677" r="2.6" fill="#EAD7A4"/><circle cx="1008" cy="686" r="2.6" fill="#EAD7A4"/><circle cx="1024" cy="700" r="2.6" fill="#EAD7A4"/><circle cx="985" cy="694" r="2.6" fill="#EAD7A4"/><circle cx="1041" cy="722" r="2.6" fill="#EAD7A4"/><circle cx="1031" cy="708" r="2.6" fill="#EAD7A4"/><circle cx="1043" cy="784" r="2.6" fill="#EAD7A4"/><circle cx="1038" cy="800" r="2.6" fill="#EAD7A4"/><circle cx="985" cy="812" r="2.6" fill="#EAD7A4"/><circle cx="1045" cy="815" r="2.6" fill="#EAD7A4"/><ellipse cx="917.5" cy="776" rx="23" ry="17.5" fill="#E9A04C"/><path d="M895,772 C895,760 906,755.6 917.5,755.6 C930,755.6 940.5,762 940.5,772 C935,778 930,780 925,784 C915,786 900,782 895,772Z" fill="#5A2C1C"/><ellipse cx="917.5" cy="768" rx="6" ry="3.5" fill="#3A1A10"/><ellipse cx="957.5" cy="773" rx="25" ry="22" fill="#E9A04C" transform="rotate(20 957.5 773)"/><ellipse cx="957" cy="770" rx="22" ry="18.5" fill="#F6EEE8" transform="rotate(20 957 770)"/><ellipse cx="957" cy="768" rx="6" ry="4" fill="#D9A860" transform="rotate(20 957 768)"/><circle cx="958.1" cy="780.4" r="0.55" fill="#3A2A2A"/><circle cx="946.4" cy="777.7" r="0.55" fill="#3A2A2A"/><circle cx="950.3" cy="763.8" r="0.55" fill="#3A2A2A"/><circle cx="975.0" cy="770.2" r="0.55" fill="#3A2A2A"/><circle cx="956.3" cy="777.8" r="0.55" fill="#3A2A2A"/><circle cx="971.0" cy="768.7" r="0.55" fill="#3A2A2A"/><circle cx="964.3" cy="759.7" r="0.55" fill="#3A2A2A"/><circle cx="950.3" cy="762.8" r="0.55" fill="#3A2A2A"/><circle cx="944.9" cy="758.4" r="0.55" fill="#3A2A2A"/><circle cx="940.2" cy="767.1" r="0.55" fill="#3A2A2A"/><circle cx="952.5" cy="762.5" r="0.55" fill="#3A2A2A"/><circle cx="957.8" cy="757.2" r="0.55" fill="#3A2A2A"/><circle cx="954.1" cy="775.7" r="0.55" fill="#3A2A2A"/><circle cx="966.3" cy="760.9" r="0.55" fill="#3A2A2A"/><circle cx="953.4" cy="755.0" r="0.55" fill="#3A2A2A"/><circle cx="952.8" cy="754.7" r="0.55" fill="#3A2A2A"/><circle cx="943.1" cy="777.3" r="0.55" fill="#3A2A2A"/><circle cx="939.1" cy="774.0" r="0.55" fill="#3A2A2A"/><circle cx="964.1" cy="763.7" r="0.55" fill="#3A2A2A"/><circle cx="964.3" cy="775.5" r="0.55" fill="#3A2A2A"/><circle cx="970.3" cy="766.7" r="0.55" fill="#3A2A2A"/><circle cx="948.5" cy="762.3" r="0.55" fill="#3A2A2A"/></g>
<g fill="#EC1C24" stroke="#EC1C24" stroke-width="1.3" font-size="33"><text x="510.5" y="452.8" textLength="240.6" lengthAdjust="spacingAndGlyphs">Czynniki ryzyka</text><text x="570" y="488.8" textLength="123.5" lengthAdjust="spacingAndGlyphs">rozwoju</text><text x="563.4" y="526.2" textLength="135.4" lengthAdjust="spacingAndGlyphs">cukrzycy</text></g>
<g fill="#231F20" stroke="#231F20" stroke-width="0.45"><rect x="363.0" y="84.2" width="128.2" height="74.6" fill="#fff" stroke="#231F20" stroke-width="4.0"/><text x="387.0" y="115.0" font-size="22.0" textLength="81.0" lengthAdjust="spacingAndGlyphs" text-anchor="start">Czynniki</text><text x="372.0" y="138.5" font-size="22.0" textLength="110.0" lengthAdjust="spacingAndGlyphs" text-anchor="start">genetyczne</text><rect x="766.2" y="102.9" width="95.6" height="52.1" fill="#fff" stroke="#231F20" stroke-width="4.0"/><text x="777.1" y="135.2" font-size="22.0" textLength="73.9" lengthAdjust="spacingAndGlyphs" text-anchor="start">Otyłość</text><rect x="13.7" y="578.7" width="272.3" height="52.7" fill="#fff" stroke="#231F20" stroke-width="4.0"/><text x="24.6" y="611.0" font-size="22.0" textLength="251.7" lengthAdjust="spacingAndGlyphs" text-anchor="start">Brak aktywności fizycznej</text><rect x="909.6" y="548.0" width="96.2" height="52.7" fill="#fff" stroke="#231F20" stroke-width="4.0"/><text x="933.4" y="582.1" font-size="22.0" textLength="48.8" lengthAdjust="spacingAndGlyphs" text-anchor="start">Wiek</text><rect x="306.5" y="726.5" width="128.1" height="74.1" fill="#fff" stroke="#231F20" stroke-width="4.0"/><text x="335.5" y="757.3" font-size="22.0" textLength="70.4" lengthAdjust="spacingAndGlyphs" text-anchor="start">Palenie</text><text x="336.2" y="780.3" font-size="22.0" textLength="69.0" lengthAdjust="spacingAndGlyphs" text-anchor="start">tytoniu</text><rect x="504.5" y="716.3" width="245.2" height="73.4" fill="#fff" stroke="#231F20" stroke-width="4.0"/><text x="513.8" y="747.2" font-size="22.0" textLength="228.6" lengthAdjust="spacingAndGlyphs" text-anchor="start">Nadmierne spożywanie</text><text x="585.0" y="769.8" font-size="22.0" textLength="83.3" lengthAdjust="spacingAndGlyphs" text-anchor="start">alkoholu</text><rect x="778.7" y="818.7" width="273.2" height="52.7" fill="#fff" stroke="#231F20" stroke-width="4.0"/><text x="791.5" y="851.0" font-size="22.0" textLength="248.4" lengthAdjust="spacingAndGlyphs" text-anchor="start">Wysokokaloryczna dieta</text></g>
</svg>
</body></html>
